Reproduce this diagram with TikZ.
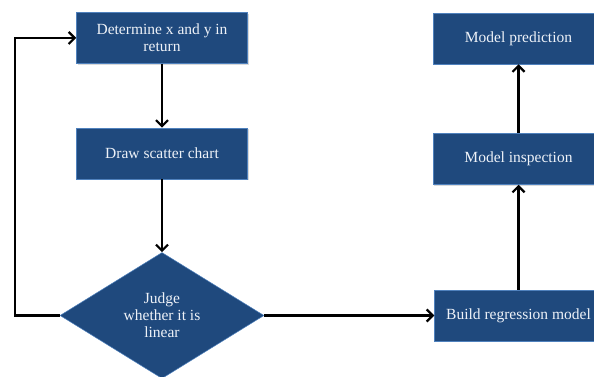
\documentclass[tikz,border=0pt]{standalone}
\usepackage{fontspec}
\setmainfont{Liberation Serif}
\usetikzlibrary{positioning}
\usetikzlibrary{arrows.meta}
\usetikzlibrary{shapes.geometric}
\usetikzlibrary{shadows}
\definecolor{boxblue}{HTML}{1F497D}
\definecolor{edgeblue}{HTML}{4F81BD}
\definecolor{textwhite}{HTML}{EEF2F8}

\begin{document}
\begin{tikzpicture}[x=1pt,y=1pt,font=\fontsize{15.5}{17}\selectfont]
\tikzset{process/.style={rectangle, minimum width=171pt, minimum height=51pt, fill=boxblue, draw=edgeblue, line width=0.5pt, text=textwhite, align=center, drop shadow={opacity=0.3, shadow xshift=1pt, shadow yshift=-1.5pt}}}
\tikzset{judgement/.style={diamond, aspect=1.6, minimum width=204pt, minimum height=126pt, inner sep=0pt, fill=boxblue, draw=edgeblue, line width=0.5pt, text=textwhite, align=center}}
\tikzset{flow/.style={line width=2.2pt, -{Straight Barb[length=6pt,width=12pt]}}}
\path[use as bounding box, clip] (0,0) rectangle (594,377);
\node[process] (determine) at (162,339) {Determine x and y in\\return};
\node[process, below = 64pt of determine] (scatter) {Draw scatter chart};
\node[judgement, below = 73pt of scatter] (judge) {Judge\\whether it is\\linear};
\node[process, minimum width=168pt, right = 170pt of judge] (build) {Build regression model};
\node[process, above = 105pt of build] (inspect) {Model inspection};
\node[process, above = 69pt of inspect] (predict) {Model prediction};
\coordinate (loopbottom) at (15,0 |- judge.west);
\coordinate (looptop) at (15,0 |- determine.west);
\draw[flow] (determine) -- (scatter);
\draw[flow] (scatter) -- (judge);
\draw[flow] (judge.west) -- (loopbottom) -- (looptop) -- (determine.west);
\draw[flow] (judge.east) -- (build.west);
\draw[flow] (build) -- (build |- inspect.south);
\draw[flow] (inspect) -- (inspect |- predict.south);
\end{tikzpicture}
\end{document}
